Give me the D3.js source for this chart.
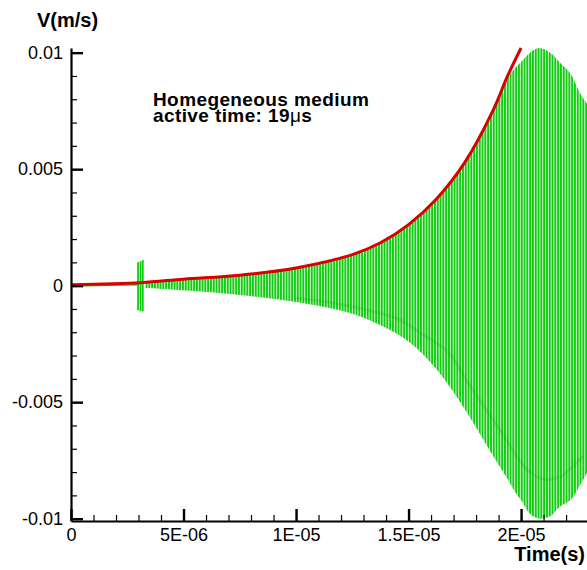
<!DOCTYPE html>
<html>
<head>
<meta charset="utf-8">
<script src="https://cdn.jsdelivr.net/npm/d3@7"></script>
<style>
  html, body { margin: 0; padding: 0; background: #fff; }
  svg { display: block; font-family: "Liberation Sans", Arial, Helvetica, sans-serif; }
</style>
</head>
<body>
<svg id="chart"></svg>
<script>
// axis ticks
const tTicks = [0, 5e-6, 1e-5, 1.5e-5, 2e-5];
const tLabels = ["0", "5E-06", "1E-05", "1.5E-05", "2E-05"];
const vTicks = [0.01, 0.005, 0, -0.005, -0.01];
const vLabels = ["0.01", "0.005", "0", "-0.005", "-0.01"];

// red envelope curve
const redT = [0, 3.1e-6, 5e-6, 7.5e-6, 1e-5, 1.25e-5, 1.375e-5, 1.5e-5, 1.625e-5, 1.75e-5, 1.875e-5, 1.94e-5, 2e-5];
const redV = [0.00004, 0.00013, 0.00028, 0.00045, 0.00076, 0.00133, 0.00184, 0.00262, 0.00373, 0.00529, 0.00751, 0.0090, 0.0102];

// green signal: flat start, burst, then oscillation envelope
const flatT = [0, 3.0e-6];
const flatV = [0, 0.00005];
const burstT = [2.98e-6, 3.09e-6, 3.19e-6];
const burstHi = [0.001, 0.00105, 0.0011];
const burstLo = [-0.00105, -0.0011, -0.0011];
const greenT  = [3.3e-6, 5e-6, 7.5e-6, 1e-5, 1.25e-5, 1.375e-5, 1.5e-5, 1.625e-5, 1.75e-5, 1.875e-5, 1.94e-5, 1.97e-5, 2.0e-5, 2.04e-5, 2.08e-5, 2.13e-5, 2.17e-5, 2.22e-5, 2.26e-5, 2.3e-5];
const greenHi = [0.00012, 0.00028, 0.00045, 0.00076, 0.00133, 0.00184, 0.00262, 0.00373, 0.00529, 0.00751, 0.0089, 0.0093, 0.0096, 0.0100, 0.0102, 0.0100, 0.0096, 0.0091, 0.0083, 0.0077];
const greenLo = [-0.0001, -0.0002, -0.0004, -0.0007, -0.0012, -0.0017, -0.0024, -0.0036, -0.0053, -0.0073, -0.0083, -0.0088, -0.0092, -0.0098, -0.0100, -0.0099, -0.0095, -0.0092, -0.0086, -0.0079];
// darker beat ridge inside the band
const ridgeT = [9.96e-6, 1.164e-5, 1.316e-5, 1.462e-5, 1.551e-5, 1.671e-5, 1.76e-5, 1.907e-5, 2.027e-5, 2.098e-5, 2.173e-5, 2.276e-5];
const ridgeV = [-0.00053, -0.00074, -0.00104, -0.00147, -0.00203, -0.0028, -0.0041, -0.0062, -0.0079, -0.0083, -0.0082, -0.0073];

const width = 587, height = 570;
const green = "#12cc12";

const svg = d3.select("#chart").attr("width", width).attr("height", height);

const x = d3.scaleLinear().domain([0, 2.293e-5]).range([71, 587]);
const y = d3.scaleLinear().domain([-0.0101, 0.0102]).range([521, 48]);

const defs = svg.append("defs");
defs.append("clipPath").attr("id", "plot")
    .append("rect").attr("x", 71).attr("y", 40).attr("width", 520).attr("height", 481);
const pat = defs.append("pattern")
    .attr("id", "stripes")
    .attr("patternUnits", "userSpaceOnUse")
    .attr("width", 2.8).attr("height", 20);
pat.append("rect").attr("width", 2).attr("height", 20).attr("fill", green);

const plot = svg.append("g").attr("clip-path", "url(#plot)");
const smooth = d3.curveCatmullRom.alpha(0.5);

// oscillation band
const band = d3.area()
    .x((d, i) => x(greenT[i]))
    .y0((d, i) => y(greenLo[i]))
    .y1((d, i) => y(greenHi[i]))
    .curve(smooth);
plot.append("path").datum(greenT).attr("d", band).attr("fill", "url(#stripes)");

// ridge
plot.append("path")
    .datum(ridgeT)
    .attr("d", d3.line().x((d, i) => x(ridgeT[i])).y((d, i) => y(ridgeV[i])).curve(smooth))
    .attr("fill", "none")
    .attr("stroke", "#0a9a0a")
    .attr("stroke-opacity", 0.18)
    .attr("stroke-width", 3);

// flat part and burst
plot.append("path")
    .datum(flatT)
    .attr("d", d3.line().x((d, i) => x(flatT[i])).y((d, i) => y(flatV[i])))
    .attr("stroke", green).attr("stroke-width", 2).attr("fill", "none");
plot.selectAll("line.burst")
    .data(burstT)
    .enter().append("line")
    .attr("class", "burst")
    .attr("x1", d => x(d)).attr("x2", d => x(d))
    .attr("y1", (d, i) => y(burstHi[i])).attr("y2", (d, i) => y(burstLo[i]))
    .attr("stroke", green).attr("stroke-width", 1.8);

// red envelope
plot.append("path")
    .datum(redT)
    .attr("d", d3.line().x((d, i) => x(redT[i])).y((d, i) => y(redV[i])).curve(smooth))
    .attr("fill", "none")
    .attr("stroke", "#d80000")
    .attr("stroke-width", 3);

// axes
const xAxis = svg.append("g")
    .attr("transform", "translate(0,521)")
    .call(d3.axisBottom(x).tickValues(tTicks).tickFormat((d, i) => tLabels[i])
        .tickSize(-12).tickSizeOuter(0).tickPadding(7));
svg.append("g")
    .attr("transform", "translate(0,521)")
    .call(d3.axisBottom(x).tickValues(d3.range(0, 23).map(i => i * 1e-6)).tickFormat("")
        .tickSize(-6).tickSizeOuter(0))
    .call(g => g.select(".domain").remove())
    .selectAll("line").attr("stroke-width", 1.2);

const yAxis = svg.append("g")
    .attr("transform", "translate(71,0)")
    .call(d3.axisLeft(y).tickValues(vTicks).tickFormat((d, i) => vLabels[i])
        .tickSize(-12).tickSizeOuter(0).tickPadding(8));
svg.append("g")
    .attr("transform", "translate(71,0)")
    .call(d3.axisLeft(y).tickValues(d3.range(-10, 11).map(i => i * 0.001)).tickFormat("")
        .tickSize(-6).tickSizeOuter(0))
    .call(g => g.select(".domain").remove())
    .selectAll("line").attr("stroke-width", 1.2);

[xAxis, yAxis].forEach(a => {
    a.select(".domain").attr("stroke-width", 2.2);
    a.selectAll(".tick line").attr("stroke-width", 2.4);
    a.selectAll(".tick text")
        .attr("font-family", "'Liberation Sans', Arial, sans-serif")
        .attr("font-size", 18)
        .attr("fill", "#000");
});

// titles
svg.append("text")
    .attr("x", 37).attr("y", 27)
    .attr("font-size", 20).attr("font-weight", "bold")
    .text("V(m/s)");
svg.append("text")
    .attr("x", 585).attr("y", 561)
    .attr("text-anchor", "end")
    .attr("font-size", 20).attr("font-weight", "bold")
    .text("Time(s)");

// annotation
const note = svg.append("text")
    .attr("font-size", 19).attr("font-weight", "bold")
    .attr("letter-spacing", 0.4);
note.append("tspan").attr("x", 153).attr("y", 106).text("Homegeneous medium");
const l2 = note.append("tspan").attr("x", 153).attr("y", 122);
l2.append("tspan").text("active time: 19");
l2.append("tspan").attr("font-weight", "normal").text("\u03bc");
l2.append("tspan").text("s");
</script>
</body>
</html>
